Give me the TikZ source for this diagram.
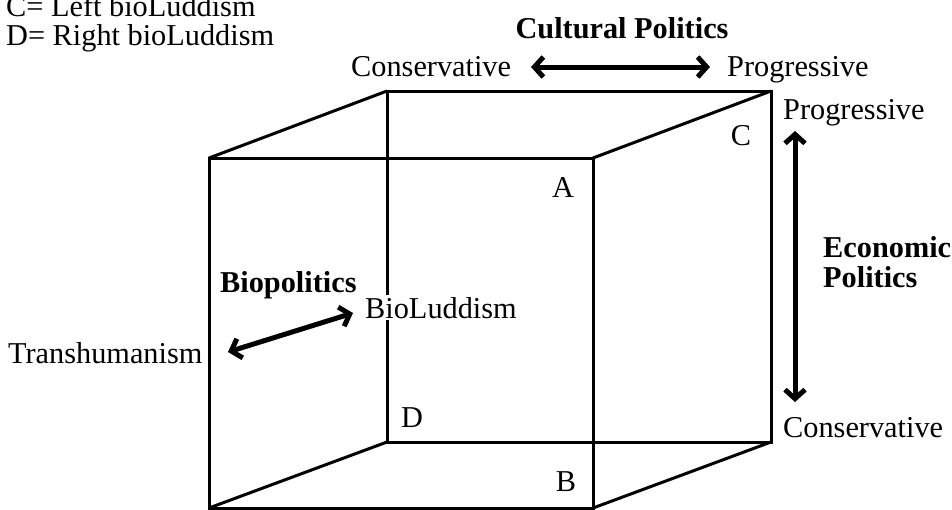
\documentclass[tikz,border=0pt]{standalone}
\usepackage{fontspec}
\setmainfont{Liberation Serif}
\usetikzlibrary{arrows.meta}
\begin{document}
\begin{tikzpicture}[x=1pt,y=-1pt,
  txt/.style={inner sep=0pt,font=\fontsize{30.3}{33}\selectfont},
  btxt/.style={inner sep=0pt,font=\fontsize{30.3}{33}\selectfont\bfseries},
  edge/.style={line width=3pt,line join=miter},
  dblarrow/.style={line width=5pt,{Straight Barb[length=9pt,width=20pt,line width=5pt]}-{Straight Barb[length=9pt,width=20pt,line width=5pt]}}]
\useasboundingbox (0,0) rectangle (952,509);
% cube corners
\coordinate (f1) at (209,158);
\coordinate (f2) at (593,158);
\coordinate (f3) at (593,508);
\coordinate (f4) at (209,508);
\coordinate (b1) at (387,91);
\coordinate (b2) at (771,91);
\coordinate (b3) at (771,442);
\coordinate (b4) at (387,442);
% back face
\draw[edge] (b1) -- (b2) -- (b3) -- (b4) -- cycle;
% depth edges
\draw[edge] (f1) -- (b1);
\draw[edge] (f2) -- (b2);
\draw[edge] (f3) -- (b3);
\draw[edge] (f4) -- (b4);
% front face
\draw[edge] (f1) -- (f2) -- (f3) -- (f4) -- cycle;
% legend
\node[txt,anchor=base west] (legC) at (6,16) {C= Left bioLuddism};
\node[txt,anchor=base west] (legD) at (6,45) {D= Right bioLuddism};
% cultural politics
\node[btxt,anchor=base] (cult) at (622,38) {Cultural Politics};
\node[txt,anchor=base west] (tcons) at (351,76) {Conservative};
\node[txt,anchor=base west] (tprog) at (727,76) {Progressive};
\coordinate (ta1) at (531,67);
\coordinate (ta2) at (710,67);
\draw[dblarrow] (ta1) -- (ta2);
% economic politics
\node[txt,anchor=base west] (rprog) at (783,119) {Progressive};
\node[txt,anchor=base west] (rcons) at (783,437) {Conservative};
\node[btxt,anchor=base west] (econ1) at (823,257) {Economic};
\node[btxt,anchor=base west] (econ2) at (823,287) {Politics};
\coordinate (ra1) at (795,131);
\coordinate (ra2) at (795,402);
\draw[dblarrow] (ra1) -- (ra2);
% corner labels
\node[txt] (lC) at (741,136) {C};
\node[txt] (lA) at (563,187) {A};
\node[txt] (lD) at (412,418) {D};
\node[txt] (lB) at (566,482) {B};
% biopolitics
\node[btxt,anchor=base west] (bio) at (220,292) {Biopolitics};
\node[txt,anchor=base west,fill=white,inner sep=2pt] (blud) at (363,318) {BioLuddism};
\node[txt,anchor=base west] (trans) at (8,363) {Transhumanism};
\coordinate (ba1) at (228,352);
\coordinate (ba2) at (353,313);
\draw[dblarrow] (ba1) -- (ba2);
\end{tikzpicture}
\end{document}
